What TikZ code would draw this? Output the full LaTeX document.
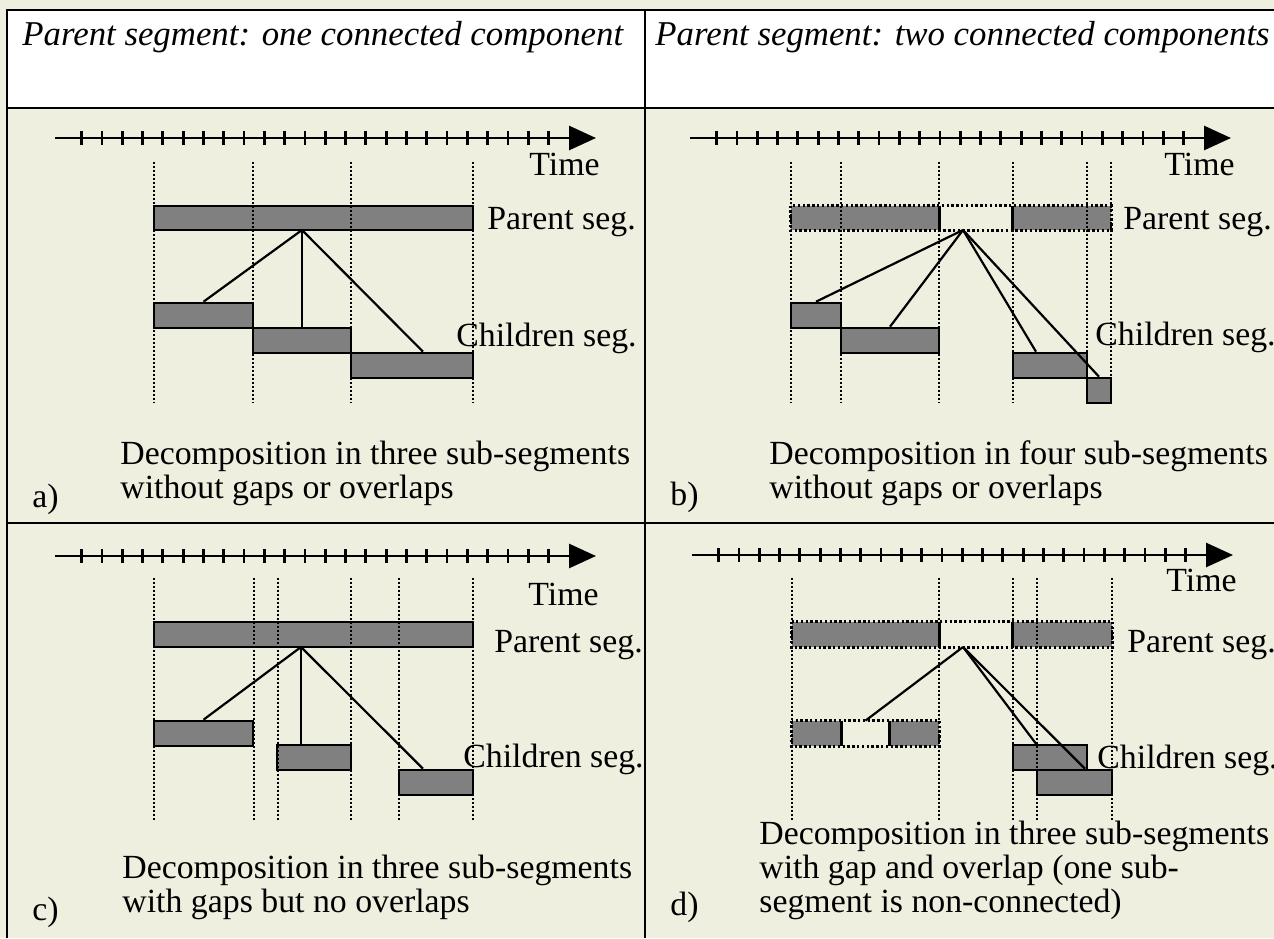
\documentclass[tikz,border=0pt]{standalone}
\usepackage{fontspec}
\setmainfont{Liberation Serif}
\usetikzlibrary{arrows.meta, positioning, calc, fit}
\definecolor{cpaper}{HTML}{EFEFE0}
\definecolor{cseg}{HTML}{808080}
\tikzset{
  rule/.style={line width=1.3pt},
  timeaxis/.style={line width=1.4pt, -{Triangle[length=13.5pt, width=12pt]}},
  tick/.style={line width=1.4pt},
  vdots/.style={line width=1.1pt, dash pattern=on 1pt off 1pt},
  seg/.style={draw, fill=cseg, line width=1.3pt, inner sep=0pt},
  segpart/.style={fill=cseg, inner sep=0pt},
  gapline/.style={line width=1.3pt, dash pattern=on 1.2pt off 1.2pt},
  cutedge/.style={line width=1.3pt},
  link/.style={line width=1.1pt},
  lbl/.style={anchor=base west, inner sep=0pt, font=\fontsize{16.9}{17}\selectfont},
  captext/.style={lbl, align=left},
  head/.style={anchor=base west, inner sep=0pt, font=\fontsize{17.4}{18}\selectfont\itshape},
}
\begin{document}
\begin{tikzpicture}[x=0.5pt, y=-0.5pt]
  \useasboundingbox (0,0) rectangle (1274,938);
  \fill[cpaper] (0,0) rectangle (1274,938);
  \fill[white] (7,10) rectangle (1274,108);
  \draw[rule] (7,938) -- (7,10) -- (1274,10);
  \draw[rule] (7,108) -- (1274,108) (7,523) -- (1274,523) (645,10) -- (645,938);
  \node[head] (ha) at (22,45) {Parent segment: one connected component};
  \node[head] (hb) at (655,45) {Parent segment: two connected components};

  \foreach \dx/\dy in {0/138, 635/138, 0/556, 637/555} {
    \draw[timeaxis] (55+\dx,\dy) -- (596+\dx,\dy);
    \foreach \k in {0,...,23}
      \draw[tick] ({81.6+20.3*\k+\dx},\dy-7) -- ++(0,14);
  }

  % a)
  \node[seg, fit={(154,206) (473,230)}] (ap) {};
  \coordinate (ax) at (302,230);
  \node[seg, fit={(154,303) (253,328)}] (a1) {};
  \node[seg, fit={(253,328) (351,353)}] (a2) {};
  \node[seg, fit={(351,353) (473,378)}] (a3) {};
  \foreach \x in {154,253,351,473} \draw[vdots] (\x,162) -- (\x,403);
  \draw[link] (ax) -- (a1.north);
  \draw[link] (ax) -- (a2.north);
  \draw[link] (ax) -- ([xshift=5.5pt]a3.north);
  \node[lbl] (at) at (529,175) {Time};
  \node[lbl] (apl) at (487,229) {Parent seg.};
  \node[lbl] (acl) at (456,346) {Children seg.};
  \node[captext] (acap) at (120,498) {Decomposition in three sub-segments\\without gaps or overlaps};
  \node[lbl] (la) at (32,507) {a)};

  % b)
  \node[segpart, fit={(791,206) (939,230)}] (bp1) {};
  \node[segpart, fit={(1013,206) (1111,230)}] (bp2) {};
  \draw[gapline] (bp1.north west) rectangle (bp2.south east);
  \draw[cutedge] (bp1.north east) -- (bp1.south east) (bp2.north west) -- (bp2.south west);
  \coordinate (bx) at (963,230);
  \node[seg, fit={(791,303) (841,328)}] (b1) {};
  \node[seg, fit={(841,328) (939,353)}] (b2) {};
  \node[seg, fit={(1013,353) (1087,378)}] (b3) {};
  \node[seg, fit={(1087,378) (1111,403)}] (b4) {};
  \foreach \x in {791,841,939,1013,1087,1111} \draw[vdots] (\x,162) -- (\x,403);
  \draw[link] (bx) -- (b1.north);
  \draw[link] (bx) -- (b2.north);
  \draw[link] (bx) -- ([xshift=-7pt]b3.north);
  \draw[link] (bx) -- (b4.north);
  \node[lbl] (bt) at (1164,175) {Time};
  \node[lbl] (bpl) at (1123,229) {Parent seg.};
  \node[lbl] (bcl) at (1095,345) {Children seg.};
  \node[captext] (bcap) at (769,498) {Decomposition in four sub-segments\\without gaps or overlaps};
  \node[lbl] (lb) at (670,505) {b)};

  % c)
  \node[seg, fit={(154,622) (473,647)}] (cp) {};
  \coordinate (cx) at (301,647);
  \node[seg, fit={(154,721) (253,746)}] (c1) {};
  \node[seg, fit={(277,745) (351,770)}] (c2) {};
  \node[seg, fit={(399,770) (473,795)}] (c3) {};
  \foreach \x in {154,254,278,351,399,473} \draw[vdots] (\x,578) -- (\x,820);
  \draw[link] (cx) -- (c1.north);
  \draw[link] (cx) -- ([xshift=-6.5pt]c2.north);
  \draw[link] (cx) -- ([xshift=-6.5pt]c3.north);
  \node[lbl] (ct) at (528,605) {Time};
  \node[lbl] (cpl) at (494,652) {Parent seg.};
  \node[lbl] (ccl) at (463,767) {Children seg.};
  \node[captext] (ccap) at (122,912) {Decomposition in three sub-segments\\with gaps but no overlaps};
  \node[lbl] (lc) at (32,920) {c)};

  % d)
  \node[segpart, fit={(792,622) (939,647)}] (dp1) {};
  \node[segpart, fit={(1013,622) (1112,647)}] (dp2) {};
  \draw[gapline] (dp1.north west) rectangle (dp2.south east);
  \draw[cutedge] (dp1.north east) -- (dp1.south east) (dp2.north west) -- (dp2.south west);
  \coordinate (dx) at (963,647);
  \node[segpart, fit={(792,721) (841,746)}] (d1a) {};
  \node[segpart, fit={(890,721) (939,746)}] (d1b) {};
  \draw[gapline] (d1a.north west) rectangle (d1b.south east);
  \draw[cutedge] (d1a.north east) -- (d1a.south east) (d1b.north west) -- (d1b.south west);
  \node[seg, fit={(1013,745) (1087,770)}] (d2) {};
  \node[seg, fit={(1037,770) (1112,795)}] (d3) {};
  \foreach \x in {792,939,1013,1037,1112} \draw[vdots] (\x,578) -- (\x,820);
  \draw[link] (dx) -- ($(d1a.north east)!.5!(d1b.north west)$);
  \draw[link] (dx) -- ([xshift=-7pt]d2.north);
  \draw[link] (dx) -- ([xshift=5.25pt]d3.north);
  \node[lbl] (dt) at (1166,591) {Time};
  \node[lbl] (dpl) at (1127,652) {Parent seg.};
  \node[lbl] (dcl) at (1097,768) {Children seg.};
  \node[captext] (dcap) at (759,912) {Decomposition in three sub-segments\\with gap and overlap (one sub-\\segment is non-connected)};
  \node[lbl] (ld) at (670,915) {d)};
\end{tikzpicture}
\end{document}
